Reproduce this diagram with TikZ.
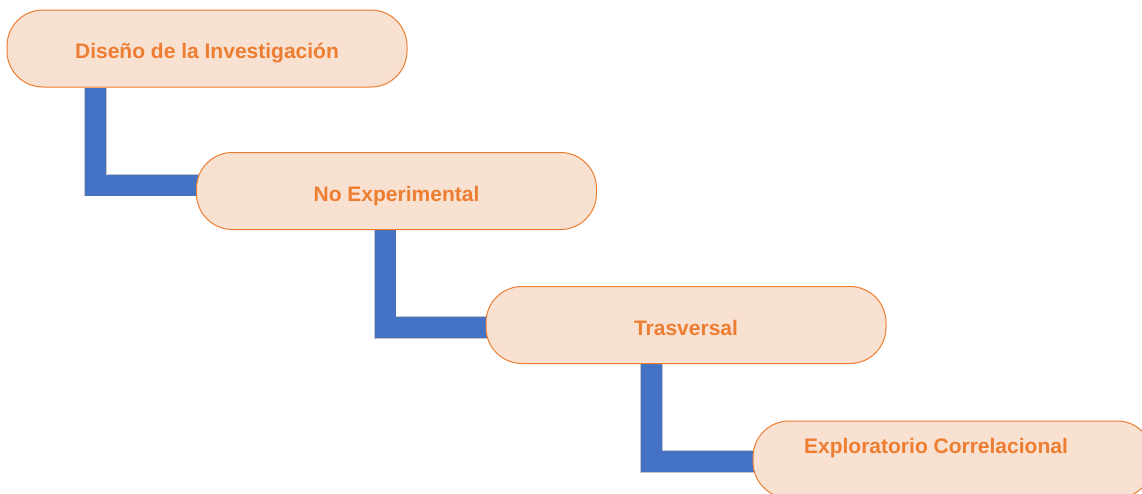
\documentclass[tikz,border=0pt]{standalone}
\usepackage{fontspec}
\setmainfont{Liberation Sans}
\usetikzlibrary{backgrounds}
\definecolor{melocoton}{HTML}{F8E1D1}
\definecolor{naranja}{HTML}{ED7D31}
\definecolor{azul}{HTML}{4472C4}
\tikzset{
  texto/.style={text=naranja,font=\fontsize{21}{25}\selectfont\bfseries,
    text height=22pt,text depth=2pt},
  caja/.style={texto,draw=naranja,fill=melocoton,line width=1pt,rounded corners=36pt,
    minimum width=400pt,minimum height=77pt},
  enlace/.style={draw=black!22,line width=0.8pt,double=azul,double distance=21pt},
}
\begin{document}
\begin{tikzpicture}[x=1pt,y=-1pt]
    \useasboundingbox (0,0) rectangle (1142,493);
    \clip (0,0) rectangle (1142,493);
    \node[caja] (d1) at (207,48.5) {Diseño de la Investigación};
    \node[caja] (d2) at (396.5,191) {No Experimental};
    \node[caja] (d3) at (686,325) {Trasversal};
    \node[caja] (d4) at (953,459.5) {};
    \node[texto] (t4) at (936,443) {Exploratorio Correlacional};
    \begin{scope}[on background layer]
    \draw[enlace] ([xshift=89pt]d1.south west) |- ([xshift=10pt,yshift=6pt]d2.west);
    \draw[enlace] ([xshift=189pt]d2.south west) |- ([xshift=10pt,yshift=-2.5pt]d3.west);
    \draw[enlace] ([xshift=166pt]d3.south west) |- ([xshift=10pt,yshift=-2pt]d4.west);
    \end{scope}
\end{tikzpicture}
\end{document}
